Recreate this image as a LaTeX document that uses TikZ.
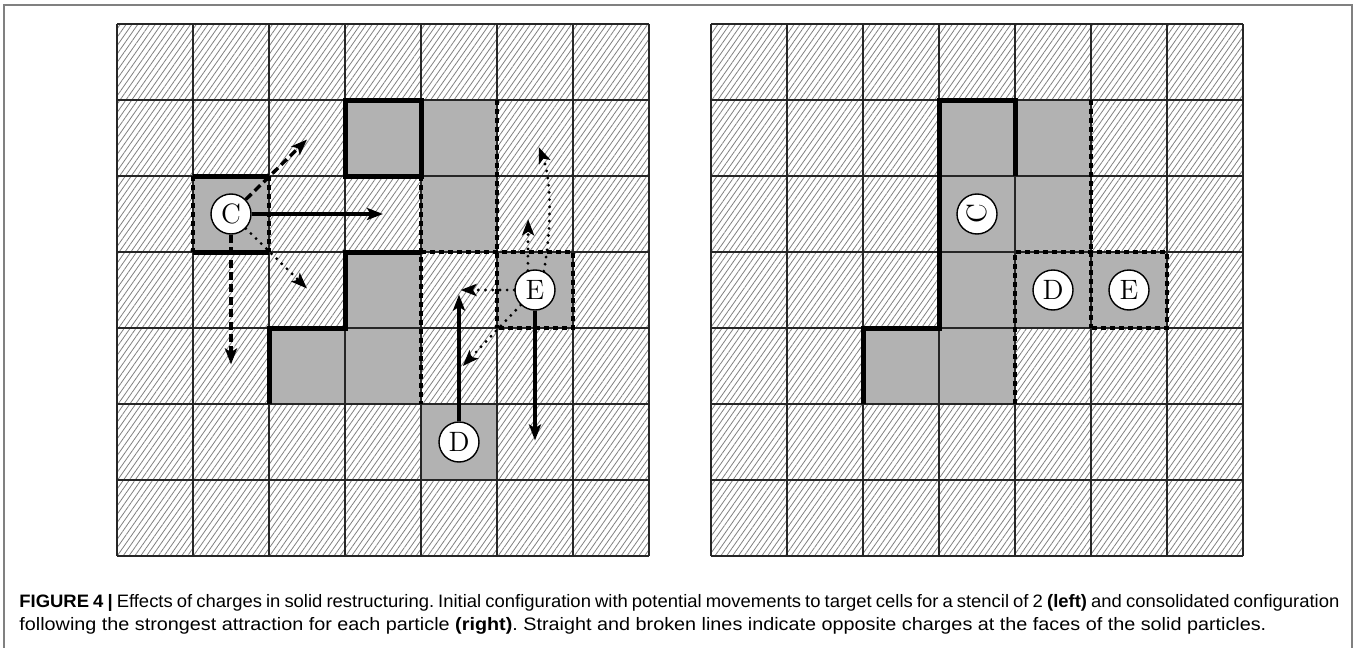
\documentclass[tikz,border=0pt]{standalone}
\usepackage{fontspec}
\newfontfamily\capfont[FakeStretch=1.1]{Liberation Sans}
\newfontfamily\capfontnarrow[FakeStretch=1.025]{Liberation Sans}
\usetikzlibrary{arrows.meta,patterns.meta}

\tikzset{
  cellline/.style={line width=0.6pt, draw=black!85},
  hatchfill/.style={pattern={Lines[angle=55,distance=2.4pt,line width=0.4pt]}, pattern color=black!50},
  solidcell/.style={fill=black!30},
  wall/.style={line width=2.5pt, line join=miter},
  facedots/.style={line width=2.1pt, dash pattern=on 2.5pt off 2pt},
  particle/.style={circle, draw, fill=white, line width=0.7pt, minimum size=20pt,
    inner sep=0pt, font=\fontsize{14}{14}\selectfont},
  tip/.style={-{Stealth[length=8pt,width=6pt,inset=1.8pt]}},
  movesolid/.style={tip, line width=1.6pt},
  movedash/.style={tip, line width=1.7pt, dash pattern=on 4pt off 2.2pt},
  movedot/.style={tip, line width=1.6pt, line cap=round, dash pattern=on 0pt off 3.6pt},
  caption/.style={anchor=base west, inner sep=0pt, text width=660pt, align=justify,
    font=\fontsize{9pt}{11.5pt}\selectfont\frenchspacing},
  frameline/.style={draw=black!50, line width=0.8pt}
}

\begin{document}
\begin{tikzpicture}[x=0.5pt, y=-0.5pt]
\useasboundingbox (0,0) rectangle (1357,648);

% figure frame
\draw[frameline] (4,660) -- (4,5) -- (1352,5) -- (1352,660);

% ---------- left panel: initial configuration ----------
\begin{scope}[shift={(117,24)}, x=38pt, y=-38pt]
  \fill[hatchfill] (0,0) rectangle (7,7);
  \foreach \c/\r in {1/2, 3/1, 4/1, 4/2, 3/3, 2/4, 3/4, 5/3, 4/5}
    \fill[solidcell] (\c,\r) rectangle ++(1,1);
  \foreach \i in {0,...,7} {
    \draw[cellline] (\i,0) -- (\i,7);
    \draw[cellline] (0,\i) -- (7,\i);
  }
  % faces of the solid particles
  \draw[wall] (3,1) rectangle (4,2);
  \draw[wall] (1,2) -- (2,2);
  \draw[wall] (1,3) -- (2,3);
  \draw[wall] (4,3) -- (3,3) -- (3,4) -- (2,4) -- (2,5);
  \draw[facedots] (1,2) -- (1,3);
  \draw[facedots] (2,2) -- (2,3);
  \draw[facedots] (4,2) -- (4,5);
  \draw[facedots] (5,1) -- (5,4);
  \draw[facedots] (4,3) -- (6,3) -- (6,4) -- (5,4);

  % particles
  \node[particle] (lC) at (1.5,2.5) {C};
  \node[particle] (lD) at (4.5,5.5) {D};
  \node[particle] (lE) at (5.5,3.5) {E};

  % target cells
  \coordinate (cE)  at (3.5,2.5);
  \coordinate (cNE) at (2.5,1.52);
  \coordinate (cSE) at (2.5,3.48);
  \coordinate (cS)  at (1.5,4.48);
  \coordinate (dN)  at (4.5,3.56);
  \coordinate (eS)  at (5.5,5.48);
  \coordinate (eW)  at (4.52,3.5);
  \coordinate (eSW) at (4.55,4.5);
  \coordinate (eN)  at (5.41,2.57);
  \coordinate (eNN) at (5.55,1.62);

  % potential movements
  \draw[movesolid] (lC) -- (cE);
  \draw[movedash]  (lC) -- (cNE);
  \draw[movedot]   (lC) -- (cSE);
  \draw[movedash]  (lC) -- (cS);
  \draw[movesolid] (lD) -- (dN);
  \draw[movesolid] (lE) -- (eS);
  \draw[movedot]   (lE) -- (eW);
  \draw[movedot]   (lE) -- (eSW);
  \draw[movedot]   (lE.110) -- (eN);
  \draw[movedot]   (lE.65) .. controls (5.72,2.7) and (5.72,2.05) .. (eNN);
\end{scope}

% ---------- right panel: consolidated configuration ----------
\begin{scope}[shift={(711,24)}, x=38pt, y=-38pt]
  \fill[hatchfill] (0,0) rectangle (7,7);
  \foreach \c/\r in {3/1, 4/1, 3/2, 4/2, 3/3, 4/3, 5/3, 2/4, 3/4}
    \fill[solidcell] (\c,\r) rectangle ++(1,1);
  \foreach \i in {0,...,7} {
    \draw[cellline] (\i,0) -- (\i,7);
    \draw[cellline] (0,\i) -- (7,\i);
  }
  \draw[wall] (2,5) -- (2,4) -- (3,4) -- (3,1) -- (4,1) -- (4,2);
  \draw[facedots] (5,1) -- (5,3);
  \draw[facedots] (4,5) -- (4,3) -- (6,3) -- (6,4) -- (5,4);
  \draw[facedots] (5,3) -- (5,4);

  \node[particle, rotate=90] (rC) at (3.5,2.5) {C};
  \node[particle] (rD) at (4.5,3.5) {D};
  \node[particle] (rE) at (5.5,3.5) {E};
\end{scope}

% ---------- caption ----------
\node[caption] (cap) at (19,607) {{\capfontnarrow\textbf{FIGURE 4 |} Effects of charges in solid restructuring. Initial configuration with potential movements to target cells for a stencil of 2 \textbf{(left)} and consolidated configuration}\linebreak
{\capfont following the strongest attraction for each particle \textbf{(right)}. Straight and broken lines indicate opposite charges at the faces of the solid particles.}};
\end{tikzpicture}
\end{document}
